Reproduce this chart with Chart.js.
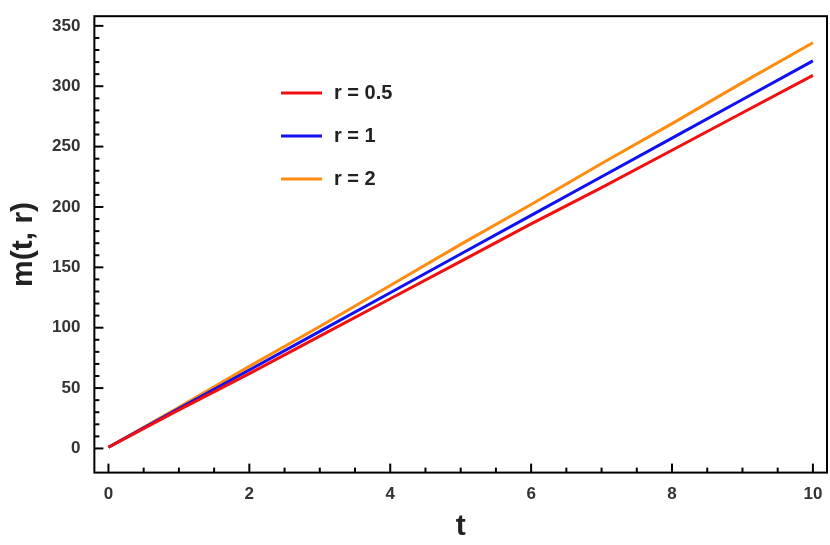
<!DOCTYPE html><html><head><script src="https://cdn.jsdelivr.net/npm/chart.js@4"></script>
<style>body{margin:0;background:#fff}#w{width:830px;height:545px}</style></head><body><div id="w"><canvas id="c"></canvas></div>
<script>
const tValues=[0,1,2,3,4,5,6,7,8,9,10];
const r05=[1,32,62,93,124,155,186,216,247,278,309];
const r1=[1,33,65,97,129,161,193,225,257,289,321];
const r2=[1,34,68,101,135,169,202,236,269,303,336];
const labels=['r = 0.5','r = 1','r = 2'];
const colors=['#f01010','#1010f0','#ff8c10'];
const series=[r05,r1,r2];
const ticksPlugin={id:'t',afterDraw(ch){const c=ch.ctx,a=ch.chartArea,x=ch.scales.x,y=ch.scales.y;c.save();c.strokeStyle='#000';c.lineWidth=2;
for(let v=0;v<=10;v+=0.5){const p=x.getPixelForValue(v),L=(v%2===0)?9:5;c.beginPath();c.moveTo(p,a.bottom);c.lineTo(p,a.bottom-L);c.stroke();}
for(let v=0;v<=350;v+=10){const p=y.getPixelForValue(v),L=(v%50===0)?9:5;c.beginPath();c.moveTo(a.left,p);c.lineTo(a.left+L,p);c.stroke();}
c.lineWidth=2;c.strokeRect(a.left,a.top,a.right-a.left,a.bottom-a.top);
c.font='bold 20px Arial';c.textBaseline='middle';
ch.data.datasets.forEach((d,i)=>{const yy=93+i*43;c.strokeStyle=d.borderColor;c.lineWidth=3;c.beginPath();c.moveTo(281,yy);c.lineTo(322,yy);c.stroke();c.fillStyle='#222';c.fillText(d.label,334,yy);});
c.restore();}};
new Chart(document.getElementById('c'),{type:'line',data:{labels:tValues,datasets:series.map((s,i)=>({label:labels[i],data:s.map((v,j)=>({x:tValues[j],y:v})),borderColor:colors[i],borderWidth:3,pointRadius:0,tension:0}))},
options:{responsive:true,maintainAspectRatio:false,animation:false,layout:{padding:{top:0,right:3,left:2,bottom:0}},plugins:{legend:{display:false},tooltip:{enabled:false}},
scales:{x:{type:'linear',min:-0.2,max:10.2,afterBuildTicks(s){s.ticks=[0,2,4,6,8,10].map(v=>({value:v}));},grid:{display:false},border:{display:false},ticks:{color:'#333',font:{size:17,weight:'bold',family:'Arial'},padding:4},title:{display:true,text:'t',color:'#222',font:{size:30,weight:'bold',family:'Arial'},padding:{top:0,bottom:0}}},
y:{min:-20,max:358,afterBuildTicks(s){s.ticks=[0,50,100,150,200,250,300,350].map(v=>({value:v}));},grid:{display:false},border:{display:false},ticks:{color:'#333',font:{size:17,weight:'bold',family:'Arial'},padding:6},title:{display:true,text:'m(t, r)',color:'#222',font:{size:30,weight:'bold',family:'Arial'},padding:{bottom:4}}}}},plugins:[ticksPlugin]});
</script></body></html>
